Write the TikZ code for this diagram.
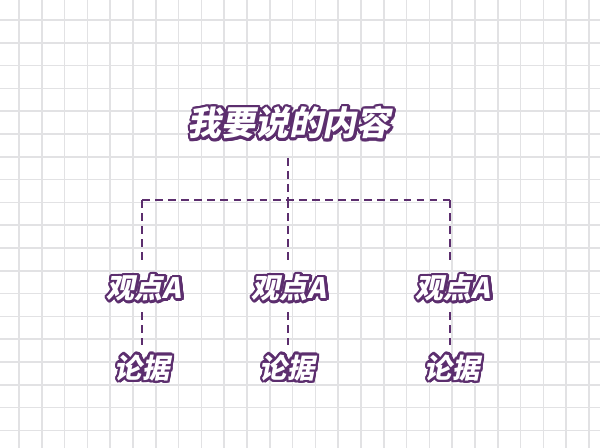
\documentclass[tikz,border=0pt]{standalone}
\usepackage{fontspec}
\usepackage{tikz}
\usetikzlibrary{calc, positioning}
\usepackage{xcolor}

\newfontfamily\cjk[FakeSlant=0.2]{Noto Sans CJK SC}
\definecolor{deep}{RGB}{92,46,110}
\definecolor{gridgray}{RGB}{226,226,228}

% white letters with a purple rim
\newcommand\rimtext[1]{%
	\foreach \a in {0,20,...,340}{%
		\rlap{\kern\fpeval{0.3+1.8*cosd(\a)}pt\raisebox{\fpeval{-0.3+1.8*sind(\a)}pt}{\color{deep}#1}}}%
	{\color{white}#1}}

\begin{document}
\begin{tikzpicture}[
			x=0.025cm, y=-0.025cm,
			gridline/.style={draw=gridgray, line width=1.1pt},
			label/.style={
				inner sep=0pt, outer sep=0pt,
				font=\cjk\bfseries\fontsize{20pt}{22pt}\selectfont
			},
			link/.style={draw=deep, line width=1.4pt, dash pattern=on 5.5pt off 3.8pt},
			]
			
			\useasboundingbox (0,0) rectangle (600,448);
			\fill[white] (0,0) rectangle (600,448);
			
			% ── Grid paper ───────────────────────────────────────────────────
			\foreach \gx in {0,...,25}
				\draw[gridline] (19+22.8*\gx,0) -- (19+22.8*\gx,448);
			\foreach \gy in {0,...,19}
				\draw[gridline] (0,20+22.8*\gy) -- (600,20+22.8*\gy);
			
			% ── Topic ────────────────────────────────────────────────────────
			\node[label, font=\cjk\bfseries\fontsize{24pt}{26pt}\selectfont] (topic) at (289,123)
			{\rimtext{我要说的内容}};
			
			\coordinate (busL) at (142,200);
			\coordinate (busR) at (450,200);
			
			% ── Views and evidence ───────────────────────────────────────────
			\node[label] (v1) at (144,288) {\rimtext{观点A}};
			\node[label] (v2) at (289,288) {\rimtext{观点A}};
			\node[label] (v3) at (453,288) {\rimtext{观点A}};
			
			\node[label, font=\cjk\bfseries\fontsize{19.5pt}{21pt}\selectfont] (e1) at (142,368) {\rimtext{论据}};
			\node[label, font=\cjk\bfseries\fontsize{19.5pt}{21pt}\selectfont] (e2) at (287,368) {\rimtext{论据}};
			\node[label, font=\cjk\bfseries\fontsize{19.5pt}{21pt}\selectfont] (e3) at (452,368) {\rimtext{论据}};
			
			\coordinate (t1) at (142,262);
			\coordinate (t2) at (288,262);
			\coordinate (t3) at (450,262);
			\coordinate (b1) at (142,312);
			\coordinate (b2) at (288,312);
			\coordinate (b3) at (450,312);
			\coordinate (c1) at (142,345);
			\coordinate (c2) at (288,345);
			\coordinate (c3) at (450,345);
			
			\draw[link] (busL) -- (busR);
			\draw[link] (topic.south) ++(-1,16) coordinate (ts) (ts) -- (ts |- busL);
			\foreach \i in {1,2,3} {
				\draw[link] (t\i |- busL) -- (t\i);
				\draw[link] (b\i) -- (c\i);
			}
			
		\end{tikzpicture}
\end{document}
